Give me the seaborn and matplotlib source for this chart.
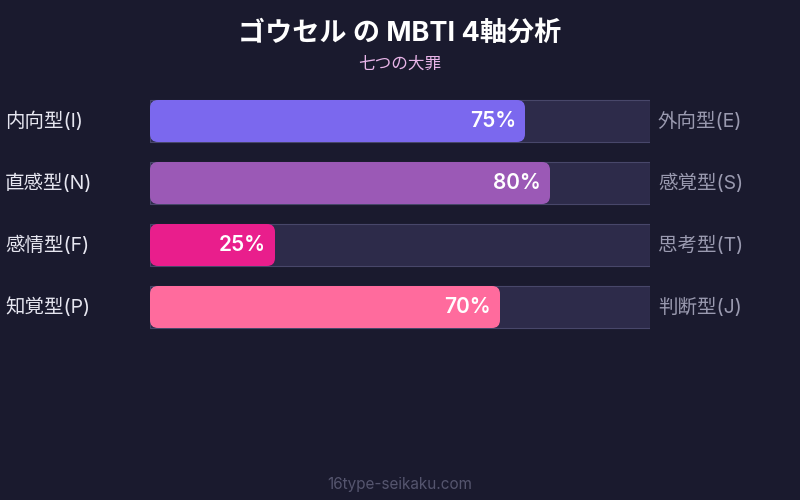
import matplotlib
matplotlib.use("Agg")
import matplotlib.pyplot as plt
from matplotlib.patches import FancyBboxPatch
import pandas as pd
import seaborn as sns

# data
left_labels = ["内向型(I)", "直感型(N)", "感情型(F)", "知覚型(P)"]
right_labels = ["外向型(E)", "感覚型(S)", "思考型(T)", "判断型(J)"]
values = [75, 80, 25, 70]
bar_colors = ["#7b68ee", "#9b59b6", "#e91e8c", "#ff6b9d"]
title = "ゴウセル の MBTI 4軸分析"
subtitle = "七つの大罪"
footer = "16type-seikaku.com"

bg = "#1a1a2e"
track = "#2d2b4a"

sns.set_style("dark")
plt.rcParams["font.family"] = ["Inter", "Noto Sans CJK JP", "DejaVu Sans"]

df = pd.DataFrame({"axis": left_labels, "value": values, "full": [100] * len(values)})

fig = plt.figure(figsize=(8, 5), dpi=100, facecolor=bg)
ax = fig.add_axes([150 / 800, (500 - 338) / 500, 500 / 800, 248 / 500])
ax.set_facecolor(bg)

bar_w = 42 / 62
sns.barplot(data=df, x="full", y="axis", orient="h", color=track, width=bar_w,
            edgecolor="#48476a", linewidth=0.8, saturation=1, ax=ax)
n_track = len(ax.patches)
sns.barplot(data=df, x="value", y="axis", orient="h", hue="axis",
            palette=bar_colors, width=bar_w, legend=False, saturation=1, ax=ax)

# replace value bars with rounded versions
aspect = (1 / 62) / (1 / 5)
for p, c in zip(list(ax.patches[n_track:]), bar_colors):
    x0, y0 = p.get_x(), p.get_y()
    w, h = p.get_width(), p.get_height()
    p.remove()
    ax.add_patch(FancyBboxPatch((x0, y0), w, h,
                                boxstyle="round,pad=0,rounding_size=1.6",
                                mutation_aspect=aspect, facecolor=c,
                                edgecolor="none", zorder=3))
    ax.text(x0 + w - 1.8, y0 + h / 2, f"{int(w)}%", ha="right", va="center",
            color="white", fontsize=15, fontweight="semibold", zorder=4)

ax.set_xlim(0, 100)
ax.set_ylim(3.5, -0.5)
ax.axis("off")

for i, (l, r) in enumerate(zip(left_labels, right_labels)):
    yf = 1 - (121 + 62 * i) / 500
    fig.text(5 / 800, yf, l, ha="left", va="center", color="#e6e6f0", fontsize=14)
    fig.text(658 / 800, yf, r, ha="left", va="center", color="#9a9ab0", fontsize=14)

fig.text(0.5, 1 - 34 / 500, title, ha="center", va="center", color="white",
         fontsize=19.5, fontweight="bold")
fig.text(0.5, 1 - 64 / 500, subtitle, ha="center", va="center", color="#e8b4e8",
         fontsize=12)
fig.text(0.5, 1 - 484 / 500, footer, ha="center", va="center", color="#55556e",
         fontsize=11)

fig.savefig("out.png", dpi=100, facecolor=bg)
